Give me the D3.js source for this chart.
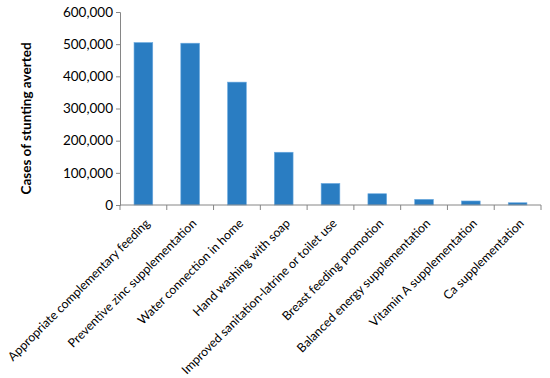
<!DOCTYPE html>
<html>
<head>
<meta charset="utf-8">
<script src="https://cdn.jsdelivr.net/npm/d3@7"></script>
<style>
  body { margin: 0; background: #fff; }
  svg { display: block; }
  text { font-family: Lato, "Open Sans", sans-serif; fill: #000; }
</style>
</head>
<body>
<svg id="chart"></svg>
<script>
const categories = [
    "Appropriate complementary feeding",
    "Preventive zinc supplementation",
    "Water connection in home",
    "Hand washing with soap",
    "Improved sanitation-latrine or toilet use",
    "Breast feeding promotion",
    "Balanced energy supplementation",
    "Vitamin A supplementation",
    "Ca supplementation"
]
const casesAverted = [505000, 503000, 382000, 164000, 67000, 35000, 17500, 12500, 7000]
const yTicks = [0, 100000, 200000, 300000, 400000, 500000, 600000]

const width = 550
const height = 378
const margin = {top: 12, right: 9, bottom: 173, left: 120}

const data = categories.map((name, i) => ({name, value: casesAverted[i]}))

const svg = d3.select('#chart')
    .attr('width', width)
    .attr('height', height)

// scales
const xScale = d3.scaleBand()
    .domain(categories)
    .range([margin.left, width - margin.right])
    .paddingInner(0.6)
    .paddingOuter(0.3)
const yScale = d3.scaleLinear()
    .domain([0, 600000])
    .range([height - margin.bottom, margin.top])

const axisColor = '#868686'

// bars
svg.append('g')
    .selectAll('rect')
    .data(data)
    .enter()
    .append('rect')
        .attr('x', d => xScale(d.name))
        .attr('y', d => yScale(d.value))
        .attr('width', xScale.bandwidth())
        .attr('height', d => yScale(0) - yScale(d.value))
        .style('fill', '#2a7dc2')
        .style('stroke', '#6aaae0')
        .style('stroke-width', 0.6)

// y axis
const yAxis = d3.axisLeft(yScale)
    .tickValues(yTicks)
    .tickSize(4)
    .tickPadding(3)
    .tickFormat(d3.format(','))
const gy = svg.append('g')
    .attr('transform', `translate(${margin.left}, 0)`)
    .call(yAxis)
gy.selectAll('path, line').style('stroke', axisColor)
gy.selectAll('text').style('font-size', '13.5px')

// x axis: ticks on category boundaries (Excel style)
const x0 = margin.left
const x1 = width - margin.right
const step = xScale.step()
const y0 = yScale(0)
const gx = svg.append('g')
gx.append('line')
    .attr('x1', x0).attr('x2', x1)
    .attr('y1', y0).attr('y2', y0)
    .style('stroke', axisColor)
gx.selectAll('.tick')
    .data(d3.range(categories.length + 1))
    .enter()
    .append('line')
        .attr('x1', i => x0 + i * step)
        .attr('x2', i => x0 + i * step)
        .attr('y1', y0)
        .attr('y2', y0 + 5)
        .style('stroke', axisColor)

// rotated category labels
gx.selectAll('.label')
    .data(categories)
    .enter()
    .append('text')
        .attr('text-anchor', 'end')
        .attr('transform', d => `translate(${xScale(d) + xScale.bandwidth() / 2 + 1}, ${y0 + 13}) rotate(-45)`)
        .attr('dy', '0.7em')
        .style('font-size', '12.3px')
        .text(d => d)

// y axis title
svg.append('text')
    .attr('text-anchor', 'middle')
    .attr('transform', `translate(31, ${(margin.top + y0) / 2 + 10}) rotate(-90)`)
    .style('font-size', '13.5px')
    .style('font-weight', 'bold')
    .text('Cases of stunting averted')
</script>
</body>
</html>
